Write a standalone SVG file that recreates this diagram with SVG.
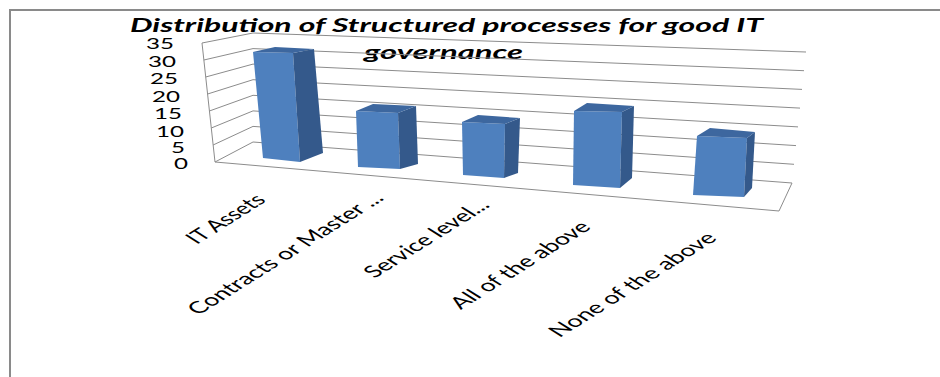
<svg xmlns="http://www.w3.org/2000/svg" width="940" height="377" viewBox="0 0 940 377">
<style>
.frame{fill:none;stroke:#8a8a8a;stroke-width:2}
.grid{fill:none;stroke:#8c8c8c;stroke-width:1}
.front{fill:#4e80be}
.side{fill:#34598b}
.top{fill:#3d679f}
.t{font-family:Lato,"Open Sans","Liberation Sans",sans-serif;fill:#000}
.title{font-size:18px;font-weight:bold;font-style:italic}
.ax{font-size:15px}
.cat{font-size:16.5px}
</style>
<rect x="0" y="0" width="940" height="377" fill="#fff"/>
<path class="frame" d="M10,377 V10 H940"/>
<g id="title">
<text class="t title" x="130" y="32" textLength="633" lengthAdjust="spacingAndGlyphs">Distribution of Structured processes for good IT</text>
<text class="t title" x="364" y="59" textLength="159" lengthAdjust="spacingAndGlyphs">governance</text>
</g>
<g id="gridlines">
<polyline class="grid" points="202,43 253,33 806,52"/>
<polyline class="grid" points="203.9,60 253,48.6 804,70.7"/>
<polyline class="grid" points="205.7,77 253,64.1 802,89.4"/>
<polyline class="grid" points="207.6,94 253,79.7 800,108.1"/>
<polyline class="grid" points="209.4,111 253,95.3 798,126.9"/>
<polyline class="grid" points="211.3,128 253,110.9 796,145.6"/>
<polyline class="grid" points="213.1,145 253,126.4 794,164.3"/>
<polygon class="grid" points="215,162 253,142 792,183 779,211"/>
<line class="grid" x1="202" y1="43" x2="215" y2="162"/>
</g>
<g id="y-axis">
<text class="t ax" x="174" y="48.5" text-anchor="end" textLength="28" lengthAdjust="spacingAndGlyphs">35</text>
<text class="t ax" x="176" y="67" text-anchor="end" textLength="28" lengthAdjust="spacingAndGlyphs">30</text>
<text class="t ax" x="178" y="84" text-anchor="end" textLength="28" lengthAdjust="spacingAndGlyphs">25</text>
<text class="t ax" x="180" y="102" text-anchor="end" textLength="28" lengthAdjust="spacingAndGlyphs">20</text>
<text class="t ax" x="182" y="119" text-anchor="end" textLength="28" lengthAdjust="spacingAndGlyphs">15</text>
<text class="t ax" x="184" y="137" text-anchor="end" textLength="28" lengthAdjust="spacingAndGlyphs">10</text>
<text class="t ax" x="185" y="153" text-anchor="end" textLength="14" lengthAdjust="spacingAndGlyphs">5</text>
<text class="t ax" x="188" y="169" text-anchor="end" textLength="14" lengthAdjust="spacingAndGlyphs">0</text>
</g>
<g id="bar-it-assets">
<polygon class="front" points="253,52 293,53 300,162 263,158"/>
<polygon class="side" points="293,53 314,49 323,153 300,162"/>
<polygon class="top" points="253,52 275,47 314,49 293,53"/>
</g>
<g id="bar-contracts">
<polygon class="front" points="356,111 398,113 400,169 358,167"/>
<polygon class="side" points="398,113 416,106 418,164 400,169"/>
<polygon class="top" points="356,111 373,104 416,106 398,113"/>
</g>
<g id="bar-service">
<polygon class="front" points="462,122 505,124 504,178 463,175"/>
<polygon class="side" points="505,124 520,118 518,173 504,178"/>
<polygon class="top" points="462,122 478,115 520,118 505,124"/>
</g>
<g id="bar-all">
<polygon class="front" points="574,111 622,112 620,188 573,185"/>
<polygon class="side" points="622,112 634,106 632,178 620,188"/>
<polygon class="top" points="574,111 587,103 634,106 622,112"/>
</g>
<g id="bar-none">
<polygon class="front" points="697,136 747,138 744,197 693,195"/>
<polygon class="side" points="747,138 755,132 752,188 744,197"/>
<polygon class="top" points="697,136 710,128 755,132 747,138"/>
</g>
<g id="x-axis">
<text class="t cat" text-anchor="end" textLength="62" lengthAdjust="spacingAndGlyphs" transform="translate(267,201) scale(1.6,1) rotate(-45)">IT Assets</text>
<text class="t cat" text-anchor="end" textLength="165" lengthAdjust="spacingAndGlyphs" transform="translate(385,199) scale(1.6,1) rotate(-45)">Contracts or Master ...</text>
<text class="t cat" text-anchor="end" textLength="103" lengthAdjust="spacingAndGlyphs" transform="translate(491,206) scale(1.6,1) rotate(-45)">Service level...</text>
<text class="t cat" text-anchor="end" textLength="116" lengthAdjust="spacingAndGlyphs" transform="translate(592,228) scale(1.6,1) rotate(-45)">All of the above</text>
<text class="t cat" text-anchor="end" textLength="140" lengthAdjust="spacingAndGlyphs" transform="translate(718,239) scale(1.6,1) rotate(-45)">None of the above</text>
</g>
</svg>
